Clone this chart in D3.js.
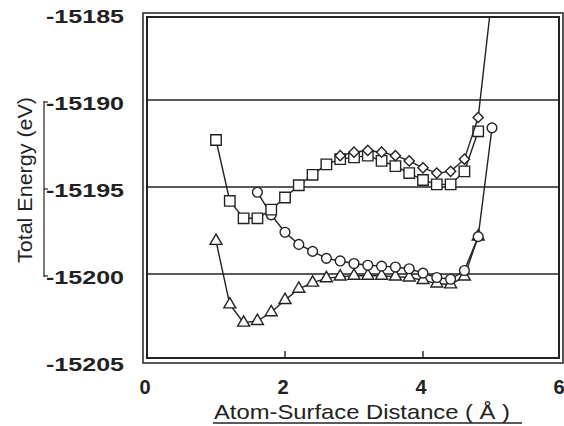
<!DOCTYPE html>
<html lang="en">
  <head>
    <meta charset="utf-8" />
    <title>Total Energy vs Atom-Surface Distance</title>
    <script src="https://cdn.jsdelivr.net/npm/d3@7"></script>
    <style>
      body { margin: 0; background: #fff; }
      text { font-family: "Liberation Sans", Arial, sans-serif; fill: #222; }
    </style>
  </head>
  <body>
    <script>
      // distances (Å) and energies (eV)
      var squareX = [1.0, 1.2, 1.4, 1.6, 1.8, 2.0, 2.2, 2.4, 2.6, 2.8, 3.0, 3.2, 3.4, 3.6, 3.8, 4.0, 4.2, 4.4, 4.6, 4.8]
      var squareY = [-15192.3, -15195.8, -15196.8, -15196.8, -15196.3, -15195.6, -15194.9, -15194.3, -15193.7, -15193.4,
                     -15193.3, -15193.2, -15193.5, -15193.8, -15194.2, -15194.6, -15194.85, -15194.85, -15194.1, -15191.8]

      var diamondX = [2.8, 3.0, 3.2, 3.4, 3.6, 3.8, 4.0, 4.2, 4.4, 4.6, 4.8, 5.0]
      var diamondY = [-15193.2, -15193.0, -15192.9, -15193.0, -15193.2, -15193.5, -15193.9, -15194.2, -15194.1, -15193.4,
                      -15191.0, -15184.0]

      var circleX = [1.6, 1.8, 2.0, 2.2, 2.4, 2.6, 2.8, 3.0, 3.2, 3.4, 3.6, 3.8, 4.0, 4.2, 4.4, 4.6, 4.8, 5.0]
      var circleY = [-15195.3, -15196.6, -15197.6, -15198.3, -15198.7, -15199.1, -15199.25, -15199.4, -15199.5, -15199.55,
                     -15199.6, -15199.7, -15199.95, -15200.2, -15200.3, -15199.8, -15197.85, -15191.6]

      var triangleX = [1.0, 1.2, 1.4, 1.6, 1.8, 2.0, 2.2, 2.4, 2.6, 2.8, 3.0, 3.2, 3.4, 3.6, 3.8, 4.0, 4.2, 4.4, 4.6, 4.8]
      var triangleY = [-15198.1, -15201.75, -15202.8, -15202.7, -15202.2, -15201.5, -15200.85, -15200.5, -15200.25, -15200.15,
                       -15200.1, -15200.1, -15200.1, -15200.15, -15200.2, -15200.35, -15200.55, -15200.6, -15200.15, -15197.85]

      var xTicks = [0, 2, 4, 6]
      var yTicks = [-15185, -15190, -15195, -15200, -15205]
      var gridValues = [-15190, -15195, -15200]

      var ink = "#232323"
      var width = 564, height = 426

      var svg = d3.select("body").append("svg")
                  .attr("width", width)
                  .attr("height", height)

      var xScale = d3.scaleLinear().domain([0, 6]).range([147, 561])
      var yScale = d3.scaleLinear().domain([-15205, -15185]).range([361, 13])

      // clip for data marks to the inner frame
      svg.append("clipPath").attr("id", "plotclip")
         .append("rect").attr("x", 147).attr("y", 17).attr("width", 412).attr("height", 341)

      // gridlines
      svg.selectAll("line.grid")
         .data(gridValues)
         .enter().append("line")
           .attr("class", "grid")
           .attr("x1", 147).attr("x2", 559)
           .attr("y1", function(d) { return yScale(d) })
           .attr("y2", function(d) { return yScale(d) })
           .attr("stroke", ink).attr("stroke-width", 1.5)

      // double frame
      svg.append("rect").attr("x", 143).attr("y", 13).attr("width", 420).attr("height", 350)
         .attr("fill", "none").attr("stroke", ink).attr("stroke-width", 1.5)
      svg.append("rect").attr("x", 147).attr("y", 17).attr("width", 412).attr("height", 341)
         .attr("fill", "none").attr("stroke", ink).attr("stroke-width", 2)

      // x tick marks inside the frame
      svg.selectAll("line.xtick")
         .data([2, 4])
         .enter().append("line")
           .attr("x1", function(d) { return xScale(d) }).attr("x2", function(d) { return xScale(d) })
           .attr("y1", 358).attr("y2", 351)
           .attr("stroke", ink).attr("stroke-width", 1.4)

      // x tick labels
      svg.selectAll("text.xlab")
         .data(xTicks)
         .enter().append("text")
           .attr("x", function(d) { return xScale(d) - 2 })
           .attr("y", 394)
           .attr("text-anchor", "middle")
           .style("font-size", "20px")
           .style("font-weight", "bold")
           .text(function(d) { return d })

      // y tick labels
      svg.selectAll("text.ylab")
         .data(yTicks)
         .enter().append("text")
           .attr("x", 124)
           .attr("y", function(d) { return yScale(d) + 10 })
           .attr("text-anchor", "end")
           .attr("textLength", 78)
           .attr("lengthAdjust", "spacingAndGlyphs")
           .style("font-size", "19px")
           .style("font-weight", "bold")
           .text(function(d) { return d })

      // bracket line beside the y label
      svg.append("line")
         .attr("x1", 44).attr("x2", 44)
         .attr("y1", yScale(-15190) + 1).attr("y2", yScale(-15200) + 3)
         .attr("stroke", ink).attr("stroke-width", 1.2)
      svg.selectAll("line.brk")
         .data(gridValues)
         .enter().append("line")
           .attr("x1", 44).attr("x2", 48)
           .attr("y1", function(d) { return yScale(d) + 2 })
           .attr("y2", function(d) { return yScale(d) + 2 })
           .attr("stroke", ink).attr("stroke-width", 1.2)

      svg.append("text")
         .attr("transform", "translate(32,180) rotate(-90)")
         .attr("text-anchor", "middle")
         .attr("textLength", 166)
         .attr("lengthAdjust", "spacingAndGlyphs")
         .style("font-size", "20px")
         .text("Total Energy (eV)")

      // x axis title, underlined
      svg.append("text")
         .attr("x", 214).attr("y", 419)
         .attr("textLength", 296)
         .attr("lengthAdjust", "spacingAndGlyphs")
         .style("font-size", "21px")
         .text("Atom-Surface Distance ( Å )")
      svg.append("line")
         .attr("x1", 213).attr("x2", 522)
         .attr("y1", 423).attr("y2", 423)
         .attr("stroke", ink).attr("stroke-width", 1.4)

      // series
      var plot = svg.append("g").attr("clip-path", "url(#plotclip)")
      var line = d3.line()
                   .x(function(d) { return xScale(d[0]) })
                   .y(function(d) { return yScale(d[1]) })

      var series = [
        {xs: triangleX, ys: triangleY, sym: d3.symbolTriangle, size: 62, rot: 0},
        {xs: circleX, ys: circleY, sym: d3.symbolCircle, size: 75, rot: 0},
        {xs: squareX, ys: squareY, sym: d3.symbolSquare, size: 110, rot: 0},
        {xs: diamondX, ys: diamondY, sym: d3.symbolSquare, size: 52, rot: 45}
      ]

      series.forEach(function(s) {
        var pts = s.xs.map(function(x, i) { return [x, s.ys[i]] })
        plot.append("path")
            .attr("d", line(pts))
            .attr("fill", "none")
            .attr("stroke", ink)
            .attr("stroke-width", 1.4)
        plot.selectAll(null)
            .data(pts)
            .enter().append("path")
              .attr("d", d3.symbol().type(s.sym).size(s.size))
              .attr("transform", function(d) {
                return "translate(" + xScale(d[0]) + "," + yScale(d[1]) + ") rotate(" + s.rot + ")"
              })
              .attr("fill", "#fff")
              .attr("stroke", ink)
              .attr("stroke-width", 1.4)
      })
    </script>
  </body>
</html>
